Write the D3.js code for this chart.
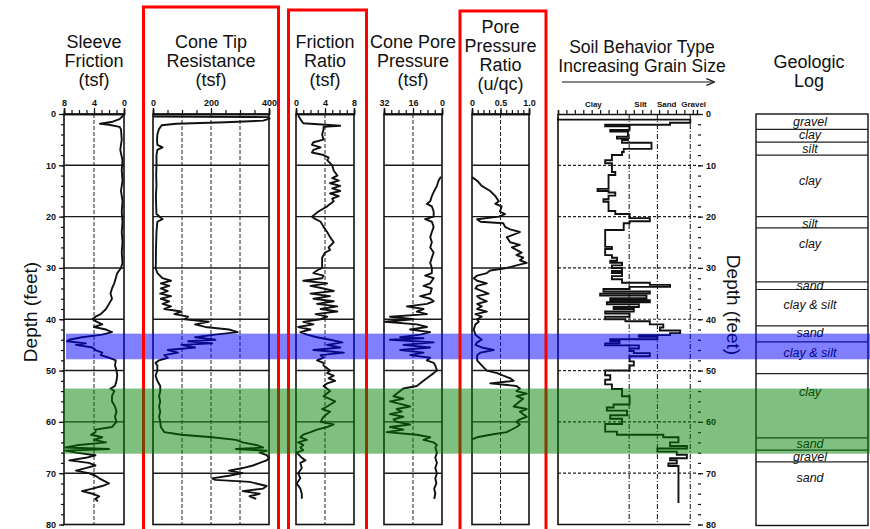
<!DOCTYPE html>
<html>
<head>
<meta charset="utf-8">
<script src="https://cdn.jsdelivr.net/npm/d3@7"></script>
<style>
  body { margin: 0; background: #fff; }
  svg { display: block; font-family: "Liberation Sans", Arial, sans-serif; }
</style>
</head>
<body>
<div id="chart"></div>
<script>
// ---- data: [depth (ft), value] ----
const sleeveFriction = [[0.3,0.1],[1.0,0.6],[1.5,1.5],[1.9,3.2],[2.1,2.0],[2.5,0.6],[3,0.4],[5,0.3],[7,0.5],[9,0.2],[11,0.3],[13,0.2],[15,0.4],[17,0.2],[19,0.3],[21,0.2],[23,0.3],[25,0.2],[27,0.3],[29,0.2],[30,0.4],[31,0.9],[32,1.1],[33,1.3],[34,1.6],[35,1.8],[36,1.6],[37,2.0],[38,2.4],[39,3.1],[39.5,3.8],[40,4.2],[40.5,3.6],[41,2.9],[41.5,4.0],[42,2.4],[42.5,1.6],[43,2.9],[43.5,5.6],[44,7.3],[44.3,7.6],[44.7,5.1],[45,6.4],[45.5,4.2],[46,3.8],[46.5,2.9],[47,3.1],[47.5,2.0],[48,1.1],[49,1.2],[50,1.0],[51,0.9],[52,1.0],[53,1.2],[53.5,1.8],[54,1.3],[55,1.6],[56,1.6],[57,1.2],[58,1.0],[59,1.2],[60,1.0],[60.5,1.3],[61,1.6],[61.5,3.8],[62,3.8],[62.5,4.4],[63,2.9],[63.5,4.0],[64,2.4],[64.5,6.0],[65,7.8],[65.3,2.0],[65.6,7.8],[66,6.4],[66.5,3.8],[67,5.1],[67.5,7.3],[68,4.7],[68.5,3.8],[69,5.1],[69.5,6.4],[70,4.7],[70.5,3.8],[71,3.3],[72,2.0],[72.5,2.9],[73,4.2],[73.5,5.6],[74,4.2],[74.5,3.3],[75,3.8],[75.5,3.5]];

const coneTip = [[0.5,0],[0.6,395],[0.9,402],[1.3,380],[1.6,250],[1.9,80],[2.2,30],[3,20],[4,15],[5,14],[6,15],[6.5,33],[7,15],[8,12],[10,12],[12,11],[14,12],[16,10],[18,11],[19.5,12],[20.5,33],[21,15],[23,12],[25,11],[27,10],[29,10],[30,9],[31,15],[32,33],[32.5,62],[33,27],[33.5,56],[34,27],[34.5,51],[35,25],[35.5,62],[36,27],[36.5,56],[37,33],[37.5,62],[38,39],[38.5,98],[39,74],[39.5,121],[40,109],[40.5,192],[41,145],[41.5,180],[42,262],[42.5,292],[43,215],[43.5,145],[44,215],[44.3,121],[44.7,204],[45,98],[45.5,145],[46,51],[46.5,86],[47,39],[47.5,51],[48,21],[48.5,9],[49,15],[50,15],[51,9],[52,15],[53,25],[54,25],[55,21],[56,25],[57,21],[58,25],[59,21],[60,25],[61,27],[62,39],[62.5,98],[63,204],[63.5,286],[64,309],[64.5,356],[65,380],[65.3,286],[65.6,392],[66,368],[66.5,392],[67,400],[67.5,392],[68,368],[68.5,345],[69,309],[69.5,262],[70,309],[70.5,262],[71,204],[71.3,215],[71.7,333],[72,356],[72.5,392],[73,380],[73.5,309],[74,368],[74.5,333],[75,356]];

const frictionRatio = [[0.3,0.3],[1.0,0.6],[1.8,1.0],[2.3,6.1],[2.5,3.8],[3,3.8],[4,3.6],[5,3.8],[5.5,2.4],[6,2.2],[6.5,3.4],[7,2.4],[7.5,2.2],[8,3.8],[8.5,4.5],[9,4.3],[10,5.0],[11,5.2],[12,5.7],[12.5,5.0],[13,5.9],[13.5,4.7],[14,6.1],[14.5,5.0],[15,6.1],[15.5,4.7],[16,5.9],[16.5,5.0],[17,5.2],[18,4.3],[19,3.1],[20,2.2],[20.5,2.7],[21,3.4],[22,3.8],[23,4.3],[24,4.7],[25,5.2],[26,4.5],[26.5,4.7],[27,4.0],[28,3.6],[29,3.6],[30,3.6],[30.5,2.9],[31,2.4],[31.5,3.8],[32,3.6],[32.5,1.0],[33,4.3],[33.5,2.0],[34,3.8],[34.5,5.2],[35,2.0],[35.5,4.7],[36,2.4],[36.5,5.2],[37,2.9],[37.5,5.7],[38,3.4],[38.5,5.7],[39,2.7],[39.5,4.3],[40,3.4],[40.5,1.0],[41,2.4],[41.5,0.3],[42,2.0],[42.5,0.6],[43,1.5],[43.5,2.9],[44,4.7],[44.5,6.4],[45,4.3],[45.5,6.1],[46,2.4],[46.5,6.6],[47,3.4],[47.5,3.8],[48,2.9],[48.5,3.8],[49,3.8],[50,4.7],[50.5,4.3],[51,5.2],[51.5,4.5],[52,5.4],[52.5,4.3],[53,3.8],[54,4.7],[55,3.8],[56,5.4],[57,4.3],[57.5,3.6],[58,4.7],[59,3.8],[60,3.4],[60.5,5.2],[61,4.3],[61.5,2.9],[62,2.0],[62.5,1.0],[63,0.6],[63.5,1.5],[64,0.3],[64.5,1.0],[65,0.6],[65.5,1.0],[66,0.1],[67,0.8],[67.5,1.3],[68,0.6],[69,0.8],[70,0.3],[71,0.6],[72,0.1],[73,0.6],[74,0.8],[75,0.8]];

const porePressure = [[12.2,0.6],[13,1.9],[14,2.8],[15,4.3],[16,5.6],[17,6.5],[17.5,8.3],[18,5.6],[19,4.6],[20,4.6],[20.5,9.3],[21,5.6],[22,4.6],[23,5.6],[24,6.5],[25,5.6],[26,6.5],[27,4.6],[28,5.6],[29,6.5],[30,5.6],[31,5.6],[31.5,9.3],[32,4.6],[33,6.5],[33.5,10.2],[34,5.6],[35,6.5],[35.5,12.0],[36,6.5],[36.5,4.6],[37,8.3],[37.5,19.4],[38,10.2],[38.5,13.9],[39,8.3],[39.5,28.7],[40,15.7],[40.5,31.4],[41,13.9],[41.5,8.3],[42,17.6],[42.5,6.5],[43,12.0],[43.5,23.1],[43.7,10.2],[44,28.7],[44.5,4.6],[45,21.3],[45.5,6.5],[46,23.1],[46.5,10.2],[47,17.6],[47.5,6.5],[48,8.3],[48.5,4.6],[49,3.7],[50,2.8],[50.5,4.6],[51,6.5],[52,10.2],[53,13.9],[53.5,21.3],[54,23.1],[55,26.8],[55.5,21.3],[56,28.7],[56.5,23.1],[57,17.6],[57.5,25.0],[58,22.2],[58.5,28.7],[59,21.3],[59.5,26.8],[60,25.0],[60.5,17.6],[61,28.7],[61.5,21.3],[62,30.5],[62.5,13.9],[63,6.5],[63.5,10.2],[64,4.6],[64.5,2.8],[65,3.7],[66,2.8],[67,3.7],[68,2.8],[69,3.7],[70,2.8],[71,3.7],[72,3.1],[73,4.3],[74,3.7],[75,4.3]];

const poreRatio = [[12.3,0],[13,0.09],[14,0.17],[15,0.32],[16,0.41],[17,0.47],[17.5,0.41],[18,0.52],[19,0.49],[19.5,0.58],[20,0.47],[20.5,0.09],[21,0.15],[21.3,0.55],[22,0.58],[22.5,0.67],[23,0.84],[23.5,0.73],[24,0.61],[25,0.67],[25.5,0.84],[26,0.70],[27,0.87],[27.5,0.78],[28,0.90],[28.5,0.84],[29,0.96],[29.5,0.78],[30,0.61],[30.5,0.32],[31,0.26],[31.5,0.09],[32,0.03],[32.5,0.09],[33,0.26],[33.5,0.09],[34,0.06],[35,0.29],[35.5,0.09],[36,0.15],[36.5,0.26],[37,0.09],[37.5,0.17],[38,0.09],[38.5,0.26],[39,0.06],[39.5,0.17],[40,0.09],[40.5,0.12],[41,0.06],[42,0.03],[43,0.06],[44,0.17],[44.5,0.09],[45,0.06],[45.5,0.17],[46,0.38],[46.5,0.15],[47,0.09],[48,0.09],[49,0.17],[50,0.26],[50.5,0.44],[51,0.55],[51.5,0.67],[52,0.73],[52.5,0.32],[53,0.78],[53.5,0.84],[54,0.78],[54.5,0.96],[55,0.78],[55.5,0.90],[56,0.84],[57,0.73],[57.5,0.96],[58,0.84],[58.5,0.90],[59,0.96],[59.5,0.84],[60,0.78],[60.5,0.84],[61,0.78],[62,0.61],[62.5,0.32],[63,0.09],[63.4,0]];

// soil behaviour type index (0 = finest ... gravel), stepped log
const soilType = [[0.8,0],[1.1,15.7],[1.7,13.3],[2.1,5.6],[2.4,8.5],[3.1,6.2],[3.4,8.3],[4.4,7.0],[4.8,8.3],[5.1,7.6],[5.6,11.1],[6.8,7.8],[7.4,7.6],[8.0,6.4],[9.0,5.6],[9.6,6.4],[11.3,6.8],[11.9,6.0],[14.6,4.7],[15.0,6.0],[15.3,6.8],[15.9,6.0],[16.6,5.4],[17.1,6.0],[18.9,6.8],[19.5,8.5],[20.3,10.9],[20.9,8.5],[21.3,7.8],[22.6,5.6],[25.9,6.4],[26.3,5.6],[27.5,6.4],[28.0,7.0],[28.6,6.2],[29.0,7.6],[29.5,6.4],[30.0,7.6],[30.6,6.4],[31.0,7.6],[31.6,6.4],[32.2,7.6],[32.9,10.9],[33.3,13.3],[33.7,8.5],[34.1,5.4],[34.6,10.9],[35.0,5.0],[35.4,10.5],[35.9,6.2],[36.3,10.9],[36.7,5.8],[37.1,9.6],[37.6,6.6],[38.0,9.0],[38.5,5.6],[38.9,8.5],[39.5,5.6],[40.0,8.0],[40.4,10.9],[41.0,12.5],[41.6,12.1],[42.2,14.5],[42.7,13.3],[43.1,9.6],[43.4,11.8],[43.9,6.2],[44.3,7.3],[44.7,5.6],[45.1,9.6],[45.7,8.5],[46.2,9.0],[46.6,10.9],[47.2,8.5],[48.2,9.0],[49.0,8.5],[50.0,5.6],[50.9,6.2],[51.8,5.6],[52.7,6.4],[53.6,7.6],[55.0,8.5],[56.6,6.6],[57.2,5.8],[57.8,8.2],[58.7,6.2],[59.4,7.6],[60.4,5.6],[61.9,7.0],[62.5,12.5],[63.0,14.3],[64.0,13.3],[64.7,15.3],[65.2,11.8],[65.8,14.1],[66.4,15.3],[67.1,13.3],[67.5,14.1],[68.1,13.1],[68.6,14.3],[75.8,14.3]];
const soilClasses = ["Clay", "Silt", "Sand", "Gravel"];
const soilClassAt = [4.2, 9.8, 12.9, 16.1];
const soilGrid = [8.45, 11.8, 15.7];

// geologic log
const geoBoundaries = [3, 5.5, 8, 20, 22.2, 32.7, 34.2, 41.3, 44.4, 50.6, 63.1, 65.5, 67.8];
const geoNames = ["gravel", "clay", "silt", "clay", "silt", "clay", "sand", "clay & silt", "sand", "clay & silt", "clay", "sand", "gravel", "sand"];
const geoLabelDepth = [1.5, 4.1, 6.8, 12.9, 21.3, 25.2, 33.4, 37.1, 42.6, 46.5, 54.1, 64.2, 66.8, 70.9];

// highlighted depth intervals
const blueZone = [42.8, 47.8];
const greenZone = [53.5, 66.2];

const depthGrid = [10, 20, 30, 40, 50, 60, 70];

// ---- drawing ----
const width = 870, height = 529;
const svg = d3.select("#chart").append("svg")
    .attr("width", width)
    .attr("height", height);

const y = d3.scaleLinear().domain([0, 80]).range([114, 524.5]);
const ink = "#111";

const panels = [
    { title: ["Sleeve", "Friction", "(tsf)"], range: [64, 124], domain: [8, 0], minor: d3.range(0, 9, 1), major: [8, 4, 0], grid: [4], data: sleeveFriction },
    { title: ["Cone Tip", "Resistance", "(tsf)"], range: [153, 269], domain: [0, 400], minor: d3.range(0, 401, 50), major: [0, 200, 400], grid: [100, 200, 300], data: coneTip },
    { title: ["Friction", "Ratio", "(tsf)"], range: [296, 354], domain: [0, 8], minor: d3.range(0, 9, 1), major: [0, 4, 8], grid: [4], data: frictionRatio },
    { title: ["Cone Pore", "Pressure", "(tsf)"], range: [384, 442], domain: [32, 0], minor: d3.range(0, 33, 4), major: [32, 16, 0], grid: [16], data: porePressure },
    { title: ["Pore", "Pressure", "Ratio", "(u/qc)"], range: [472, 529], domain: [0, 1], minor: d3.range(0, 11).map(d => d / 10), major: [0, 0.5, 1], grid: [0.5], data: poreRatio, fmt: d => d === 0 ? "0" : d3.format(".1f")(d) }
];

function styleAxis(sel) {
    sel.select(".domain").attr("stroke", ink).attr("stroke-width", 1.4);
    sel.selectAll(".tick line").attr("stroke", ink).attr("stroke-width", 1.2);
    sel.selectAll(".tick text")
        .attr("font-family", "'Liberation Sans', Arial, sans-serif")
        .attr("font-size", 9)
        .attr("font-weight", "bold")
        .attr("fill", ink);
}

panels.forEach(p => {
    const x = d3.scaleLinear().domain(p.domain).range(p.range);
    const g = svg.append("g");
    const x0 = p.range[0], x1 = p.range[1];

    // vertical dashed grid
    g.selectAll(".vgrid").data(p.grid).join("line")
        .attr("x1", d => x(d)).attr("x2", d => x(d))
        .attr("y1", y(0)).attr("y2", y(80))
        .attr("stroke", "#222").attr("stroke-width", 1).attr("stroke-dasharray", "4,2");

    // horizontal grid
    g.selectAll(".hgrid").data(depthGrid).join("line")
        .attr("x1", x0).attr("x2", x1)
        .attr("y1", d => y(d)).attr("y2", d => y(d))
        .attr("stroke", "#1a1a1a").attr("stroke-width", 1.4);

    // frame
    g.append("rect")
        .attr("x", x0).attr("y", y(0))
        .attr("width", x1 - x0).attr("height", y(80) - y(0))
        .attr("fill", "none").attr("stroke", ink).attr("stroke-width", 1.6);

    // curve
    g.append("path")
        .datum(p.data)
        .attr("fill", "none")
        .attr("stroke", ink)
        .attr("stroke-width", 1.9)
        .attr("stroke-linejoin", "round")
        .attr("d", d3.line().x(d => x(d[1])).y(d => y(d[0])));

    // top scale
    g.append("g")
        .attr("transform", `translate(0,${y(0)})`)
        .call(d3.axisTop(x).tickValues(p.minor).tickSize(4).tickFormat(""))
        .call(styleAxis);
    g.append("g")
        .attr("transform", `translate(0,${y(0)})`)
        .call(d3.axisTop(x).tickValues(p.major).tickSize(6).tickPadding(2).tickFormat(p.fmt || d3.format("d")))
        .call(styleAxis);

    // title
    const cx = (x0 + x1) / 2;
    const base = p.title.length === 4 ? 33 : 48;
    g.append("text")
        .attr("x", cx)
        .attr("text-anchor", "middle")
        .attr("font-size", 18)
        .attr("fill", ink)
        .selectAll("tspan").data(p.title).join("tspan")
        .attr("x", cx)
        .attr("y", (d, i) => base + i * 19)
        .text(d => d);
});

// left depth axis
svg.append("g")
    .attr("transform", "translate(64,0)")
    .call(d3.axisLeft(y).tickValues(d3.range(0, 81, 2)).tickSize(3).tickFormat(""))
    .call(styleAxis)
    .call(s => s.select(".domain").remove());
svg.append("g")
    .attr("transform", "translate(64,0)")
    .call(d3.axisLeft(y).tickValues(d3.range(0, 81, 10)).tickSize(5).tickPadding(3))
    .call(styleAxis)
    .call(s => s.select(".domain").remove());

svg.append("text")
    .attr("transform", `translate(37,312) rotate(-90)`)
    .attr("text-anchor", "middle")
    .attr("font-size", 19)
    .attr("fill", ink)
    .text("Depth (feet)");

// ---- soil behaviour type panel ----
const xs = d3.scaleLinear().domain([0, 16.5]).range([558, 697]);
const sg = svg.append("g");

sg.selectAll(".vgrid").data(soilGrid).join("line")
    .attr("x1", d => xs(d)).attr("x2", d => xs(d))
    .attr("y1", y(0)).attr("y2", y(80))
    .attr("stroke", "#222").attr("stroke-width", 1.1).attr("stroke-dasharray", "5,2,1,2");

sg.selectAll(".hgrid").data(depthGrid).join("line")
    .attr("x1", xs(0)).attr("x2", xs(16.5))
    .attr("y1", d => y(d)).attr("y2", d => y(d))
    .attr("stroke", "#222").attr("stroke-width", 1.2).attr("stroke-dasharray", "3,2");

sg.append("path")
    .attr("fill", "none").attr("stroke", ink).attr("stroke-width", 1.6)
    .attr("d", `M${xs(0)},${y(0)}V${y(80)}H${xs(15.7)}`);

sg.append("path")
    .datum(soilType)
    .attr("fill", "none")
    .attr("stroke", ink)
    .attr("stroke-width", 1.9)
    .attr("d", d3.line().x(d => xs(d[1])).y(d => y(d[0])).curve(d3.curveStepBefore));

sg.append("g")
    .attr("transform", `translate(0,${y(0)})`)
    .call(d3.axisTop(xs).tickValues(d3.range(0, 17, 1)).tickSize(4).tickFormat(""))
    .call(styleAxis);

sg.selectAll(".cls").data(soilClasses).join("text")
    .attr("x", (d, i) => xs(soilClassAt[i]))
    .attr("y", 107)
    .attr("text-anchor", "middle")
    .attr("font-size", 8)
    .attr("font-weight", "bold")
    .attr("fill", ink)
    .text(d => d);

// right depth axis
svg.append("g")
    .attr("transform", "translate(698,0)")
    .call(d3.axisRight(y).tickValues(d3.range(0, 81, 2)).tickSize(3).tickFormat(""))
    .call(styleAxis)
    .call(s => s.select(".domain").remove());
svg.append("g")
    .attr("transform", "translate(698,0)")
    .call(d3.axisRight(y).tickValues(d3.range(0, 81, 10)).tickSize(5).tickPadding(3))
    .call(styleAxis)
    .call(s => s.select(".domain").remove());

svg.append("text")
    .attr("transform", `translate(727,305) rotate(90)`)
    .attr("text-anchor", "middle")
    .attr("font-size", 19)
    .attr("fill", ink)
    .text("Depth (feet)");

// titles
svg.append("text")
    .attr("x", 642).attr("text-anchor", "middle").attr("font-size", 17.5).attr("fill", ink)
    .selectAll("tspan").data(["Soil Behavior Type", "Increasing Grain Size"]).join("tspan")
    .attr("x", 642).attr("y", (d, i) => 53 + i * 19).text(d => d);

svg.append("defs").append("marker")
    .attr("id", "arrow")
    .attr("viewBox", "0 0 10 10")
    .attr("refX", 9).attr("refY", 5)
    .attr("markerWidth", 7).attr("markerHeight", 7)
    .attr("orient", "auto")
    .append("path").attr("d", "M0,1L10,5L0,9").attr("fill", "none").attr("stroke", ink).attr("stroke-width", 1.5);

svg.append("line")
    .attr("x1", 562).attr("x2", 714).attr("y1", 82).attr("y2", 82)
    .attr("stroke", ink).attr("stroke-width", 1.2)
    .attr("marker-end", "url(#arrow)");

svg.append("text")
    .attr("x", 809).attr("text-anchor", "middle").attr("font-size", 18).attr("fill", ink)
    .selectAll("tspan").data(["Geologic", "Log"]).join("tspan")
    .attr("x", 809).attr("y", (d, i) => 68 + i * 19).text(d => d);

// ---- geologic log ----
const gg = svg.append("g");
gg.append("rect")
    .attr("x", 756).attr("y", y(0))
    .attr("width", 112).attr("height", y(80) - y(0) + 1)
    .attr("fill", "none").attr("stroke", ink).attr("stroke-width", 1.4);
gg.selectAll(".bnd").data(geoBoundaries).join("line")
    .attr("x1", 756).attr("x2", 868)
    .attr("y1", d => y(d)).attr("y2", d => y(d))
    .attr("stroke", "#222").attr("stroke-width", 1.2);
gg.selectAll(".lbl").data(geoNames).join("text")
    .attr("x", 810)
    .attr("y", (d, i) => y(geoLabelDepth[i]))
    .attr("dy", "0.35em")
    .attr("text-anchor", "middle")
    .attr("font-size", 12.5)
    .attr("font-style", "italic")
    .attr("fill", ink)
    .text(d => d);

// ---- highlight bands and boxes ----
svg.append("rect")
    .attr("x", 66).attr("y", y(blueZone[0]))
    .attr("width", width - 66).attr("height", y(blueZone[1]) - y(blueZone[0]))
    .attr("fill", "#0000ff").attr("opacity", 0.5);

[[143.5, 7, 135], [288.5, 10, 78], [460, 11, 86]].forEach(([bx, by, bw]) => {
    svg.append("rect")
        .attr("x", bx).attr("y", by)
        .attr("width", bw).attr("height", height + 10 - by)
        .attr("fill", "none").attr("stroke", "#ff0000").attr("stroke-width", 3);
});

svg.append("rect")
    .attr("x", 64).attr("y", y(greenZone[0]))
    .attr("width", width - 64).attr("height", y(greenZone[1]) - y(greenZone[0]))
    .attr("fill", "#008000").attr("opacity", 0.5);
</script>
</body>
</html>
